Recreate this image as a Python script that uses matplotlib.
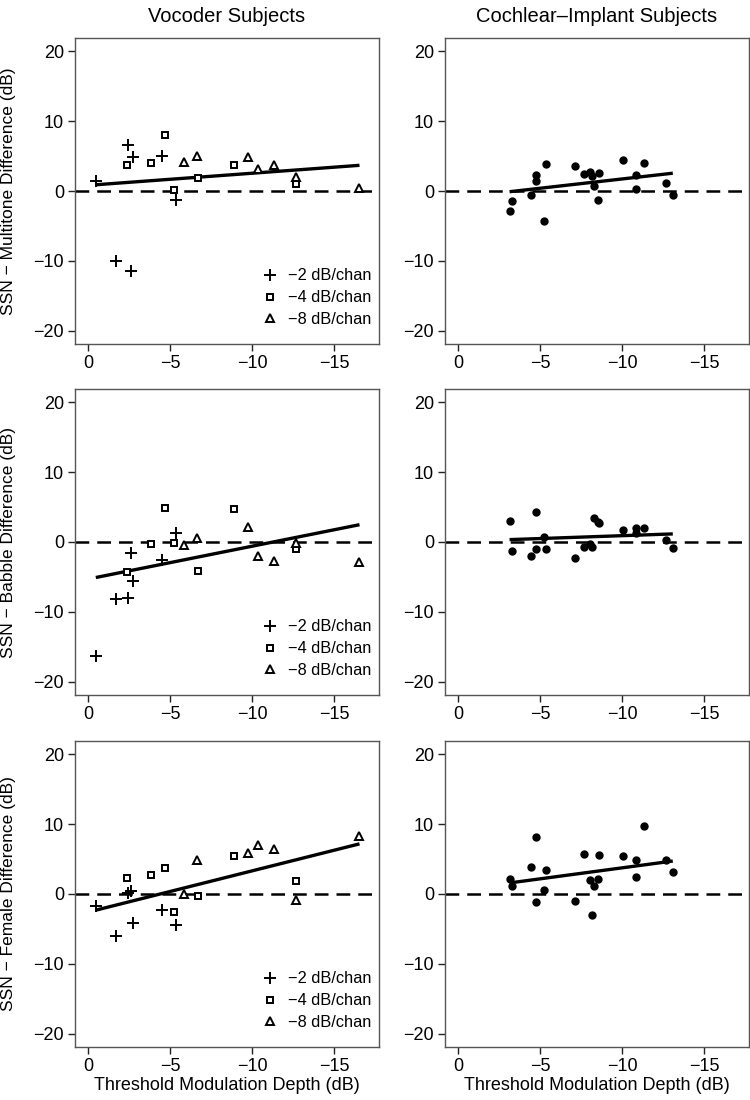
import numpy as np
import matplotlib
matplotlib.use("Agg")
from matplotlib import pyplot as plt

plt.rcParams['font.family'] = ['Liberation Sans', 'DejaVu Sans']

# threshold modulation depth (dB) for the vocoder subjects, per channel condition
voc_x_2 = [-0.47, -1.73, -2.45, -2.59, -2.71, -4.48, -5.36]
voc_x_4 = [-2.39, -3.83, -4.71, -5.24, -6.70, -8.90, -12.71]
voc_x_8 = [-5.85, -6.66, -9.78, -10.39, -11.35, -12.71, -16.56]

# SSN - masker differences (dB), vocoder subjects
voc_multi_2 = [1.43, -10.05, 6.6, -11.4, 4.9, 5.0, -1.33]
voc_multi_4 = [3.71, 3.95, 8.0, 0.1, 1.86, 3.67, 1.05]
voc_multi_8 = [4.14, 5.0, 4.86, 3.14, 3.76, 2.0, 0.43]

voc_babble_2 = [-16.38, -8.19, -7.95, -1.62, -5.57, -2.57, 1.24]
voc_babble_4 = [-4.33, -0.29, 4.81, -0.19, -4.1, 4.67, -0.95]
voc_babble_8 = [-0.43, 0.62, 2.14, -2.0, -2.71, -0.1, -2.86]

voc_female_2 = [-1.67, -6.0, 0.1, 0.48, -4.19, -2.29, -4.43]
voc_female_4 = [2.33, 2.76, 3.76, -2.57, -0.33, 5.38, 1.86]
voc_female_8 = [0.05, 4.86, 5.86, 7.0, 6.38, -0.86, 8.24]

# cochlear-implant subjects
ci_x = [-3.14, -3.28, -4.44, -4.75, -4.75, -5.22, -5.34, -7.13, -7.70, -8.05,
        -8.19, -8.29, -8.52, -8.60, -10.08, -10.84, -10.86, -11.35, -12.67, -13.10]
ci_multi = [-2.9, -1.43, -0.57, 2.29, 1.43, -4.33, 3.9, 3.57, 2.43, 2.71,
            2.1, 0.71, -1.24, 2.62, 4.48, 2.29, 0.29, 3.95, 1.14, -0.62]
ci_babble = [3.05, -1.29, -1.95, 4.24, -1.05, 0.76, -0.95, -2.29, -0.67, -0.3,
             -0.71, 3.48, 2.9, 2.71, 1.67, 2.05, 1.33, 2.0, 0.33, -0.81]
ci_female = [2.1, 1.14, 3.81, 8.19, -1.14, 0.62, 3.48, -1.0, 5.71, 2.0,
             -3.05, 1.14, 2.1, 5.52, 5.48, 4.9, 2.38, 9.71, 4.81, 3.19]

row_labels = ["SSN \u2212 Multitone Difference (dB)",
              "SSN \u2212 Babble Difference (dB)",
              "SSN \u2212 Female Difference (dB)"]
legend_labels = ["\u22122 dB/chan", "\u22124 dB/chan", "\u22128 dB/chan"]

voc_rows = [(voc_multi_2, voc_multi_4, voc_multi_8),
            (voc_babble_2, voc_babble_4, voc_babble_8),
            (voc_female_2, voc_female_4, voc_female_8)]
ci_rows = [ci_multi, ci_babble, ci_female]

W, H = 750, 1100
fig = plt.figure(figsize=(W / 100, H / 100), dpi=100)

col_left = [75, 445]
row_top = [38, 389, 741]
ax_w, ax_h = 304, 306


def style_axis(ax):
    ax.set_xlim(0.8, -17.75)
    ax.set_ylim(-21.9, 21.9)
    ax.set_xticks([0, -5, -10, -15])
    ax.set_yticks([-20, -10, 0, 10, 20])
    for s in ax.spines.values():
        s.set_color("#555555")
        s.set_linewidth(1.0)
    ax.tick_params(direction="out", length=5, width=1.0, color="#222222",
                   labelsize=13, pad=3)
    ax.tick_params(axis="x", pad=3)
    ax.axhline(0, color="black", lw=1.8, ls=(0, (5.5, 3.2)), zorder=1)


def fit_line(ax, x, y):
    x = np.asarray(x)
    y = np.asarray(y)
    b, a = np.polyfit(x, y, 1)
    xs = np.array([x.min(), x.max()])
    ax.plot(xs, a + b * xs, color="black", lw=2.4, solid_capstyle="butt", zorder=2)


for r in range(3):
    # vocoder panel
    ax = fig.add_axes([col_left[0] / W, 1 - (row_top[r] + ax_h) / H, ax_w / W, ax_h / H])
    style_axis(ax)
    y2, y4, y8 = voc_rows[r]
    ax.plot(voc_x_2, y2, ls="none", marker="+", ms=8.5, mew=1.4, color="black",
            label=legend_labels[0], zorder=3)
    ax.plot(voc_x_4, y4, ls="none", marker="s", ms=4.8, mew=1.4, mfc="white",
            mec="black", label=legend_labels[1], zorder=3)
    ax.plot(voc_x_8, y8, ls="none", marker="^", ms=5.6, mew=1.4, mfc="white",
            mec="black", label=legend_labels[2], zorder=3)
    fit_line(ax, voc_x_2 + voc_x_4 + voc_x_8, list(y2) + list(y4) + list(y8))
    ax.legend(loc="lower right", bbox_to_anchor=(0.975, 0.055), frameon=False,
              fontsize=11.8, handletextpad=0.5, labelspacing=0.42,
              borderaxespad=0, borderpad=0, handlelength=1.2)
    ax.set_ylabel(row_labels[r], fontsize=12.5)
    ax.yaxis.set_label_coords(-0.195, 0.5)
    if r == 2:
        ax.set_xlabel("Threshold Modulation Depth (dB)", fontsize=13, labelpad=1)

    # cochlear-implant panel
    ax = fig.add_axes([col_left[1] / W, 1 - (row_top[r] + ax_h) / H, ax_w / W, ax_h / H])
    style_axis(ax)
    ax.plot(ci_x, ci_rows[r], ls="none", marker="o", ms=5, color="black", zorder=3)
    fit_line(ax, ci_x, ci_rows[r])
    if r == 2:
        ax.set_xlabel("Threshold Modulation Depth (dB)", fontsize=13, labelpad=1)

fig.text((col_left[0] + ax_w / 2) / W, 1 - 16 / H, "Vocoder Subjects",
         ha="center", va="center", fontsize=14.5)
fig.text((col_left[1] + ax_w / 2) / W, 1 - 16 / H, "Cochlear\u2013Implant Subjects",
         ha="center", va="center", fontsize=14.5)

fig.savefig("out.png", dpi=100)
